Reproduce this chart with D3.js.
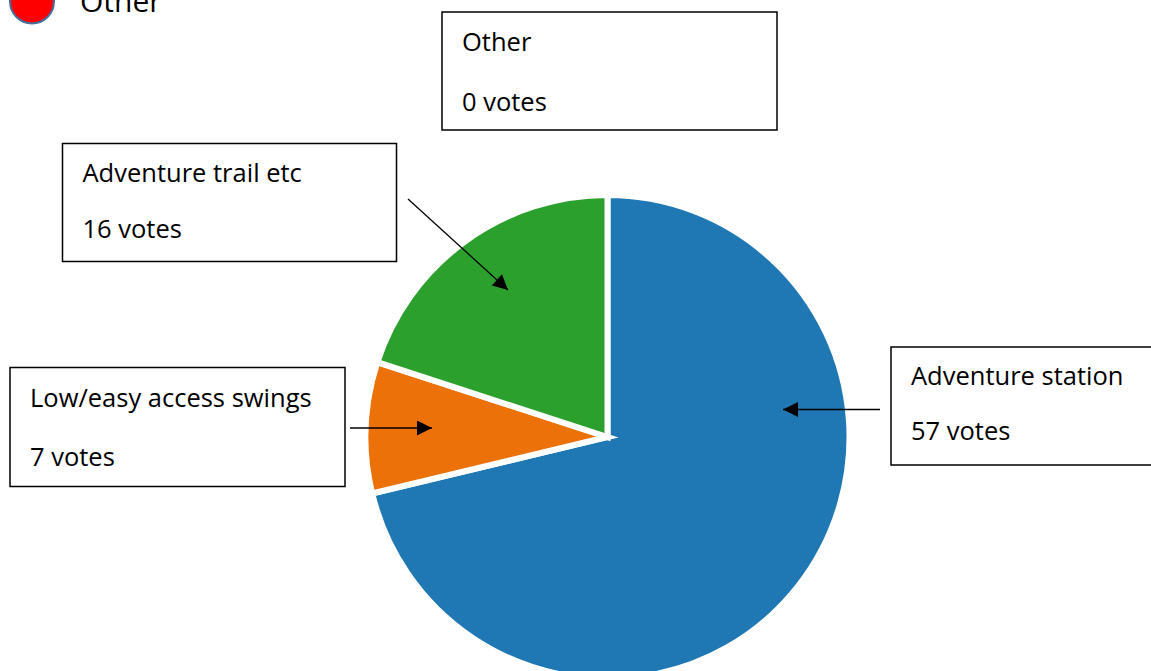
<!DOCTYPE html>
<html>
<head>
<meta charset="utf-8">
<script src="https://cdn.jsdelivr.net/npm/d3@7"></script>
<style>
  html, body { margin: 0; padding: 0; background: #fff; }
  svg { display: block; }
  text { font-family: "Open Sans", "Noto Sans", sans-serif; fill: #000; }
</style>
</head>
<body>
<svg id="chart" width="1151" height="671"></svg>
<script>
// Data
const categories = ["Adventure station", "Low/easy access swings", "Adventure trail etc", "Other"];
const votes = [57, 7, 16, 0];
const colors = ["#1f77b4", "#ec7108", "#2ca02c", "#ff0000"];
const legendLabels = ["Other"];

const svg = d3.select("#chart");
const cx = 607.5, cy = 437, R = 242;

const pie = d3.pie().sort(null).value(d => d)(votes);
const arc = d3.arc().innerRadius(0).outerRadius(R);
const color = d3.scaleOrdinal().domain(categories).range(colors);

const g = svg.append("g").attr("transform", `translate(${cx},${cy})`);
g.selectAll("path")
  .data(pie.filter(d => d.value > 0))
  .join("path")
  .attr("d", arc)
  .attr("fill", d => color(categories[d.index]))
  .attr("stroke", "#fff")
  .attr("stroke-width", 6)
  .attr("stroke-linejoin", "miter");

// Arrow marker
svg.append("defs").append("marker")
  .attr("id", "arrow")
  .attr("viewBox", "0 0 10 10")
  .attr("refX", 10).attr("refY", 5)
  .attr("markerUnits", "userSpaceOnUse")
  .attr("markerWidth", 16).attr("markerHeight", 15)
  .attr("orient", "auto")
  .append("path").attr("d", "M0,0 L10,5 L0,10 Z").attr("fill", "#000");

// Callout boxes (one per category)
const boxes = [
  {x: 891, y: 347, w: 270, h: 118, lines: [385, 440], arrow: [880, 409.5, 783, 409.5]},
  {x: 10, y: 367.5, w: 335, h: 119, lines: [407, 466], arrow: [350, 428, 432, 428]},
  {x: 62.5, y: 143.5, w: 334, h: 118, lines: [182, 238], arrow: [408, 199, 508, 290]},
  {x: 442, y: 12, w: 335, h: 118, lines: [51, 111], arrow: null}
];

categories.forEach((c, i) => {
  const b = boxes[i];
  svg.append("rect")
    .attr("x", b.x).attr("y", b.y).attr("width", b.w).attr("height", b.h)
    .attr("fill", "#fff").attr("stroke", "#000").attr("stroke-width", 1.5);
  svg.append("text").attr("x", b.x + 20).attr("y", b.lines[0])
    .attr("font-size", 25.5).text(c);
  svg.append("text").attr("x", b.x + 20).attr("y", b.lines[1])
    .attr("font-size", 25.5).text(`${votes[i]} votes`);
  if (b.arrow) {
    svg.append("line")
      .attr("x1", b.arrow[0]).attr("y1", b.arrow[1])
      .attr("x2", b.arrow[2]).attr("y2", b.arrow[3])
      .attr("stroke", "#000").attr("stroke-width", 1.3)
      .attr("marker-end", "url(#arrow)");
  }
});

// Legend (partially cut off at the top, as in the reference)
const leg = svg.append("g");
legendLabels.forEach(l => {
  const idx = categories.indexOf(l);
  leg.append("circle").attr("cx", 32).attr("cy", 1.5).attr("r", 22)
    .attr("fill", color(categories[idx])).attr("stroke", "#41719c").attr("stroke-width", 2);
  leg.append("text").attr("x", 80).attr("y", 12).attr("font-size", 30).text(l);
});
</script>
</body>
</html>
